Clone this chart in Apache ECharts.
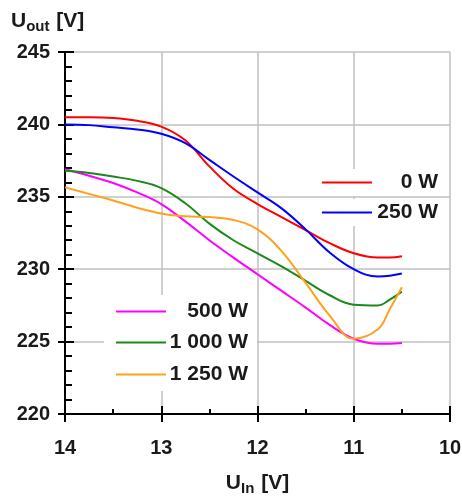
<!DOCTYPE html>
<html>
<head>
<meta charset="utf-8">
<script src="https://cdn.jsdelivr.net/npm/echarts@6/dist/echarts.min.js"></script>
<style>
html,body{margin:0;padding:0;background:#fff;}
#chart{width:462px;height:497px;}
</style>
</head>
<body>
<div id="chart"></div>
<script>
// Data
const xVals   = [14, 13.75, 13.5, 13.25, 13, 12.75, 12.5, 12.25, 12, 11.75, 11.5, 11.25, 11, 10.75, 10.625, 10.5];
const w0      = [240.5, 240.5, 240.45, 240.25, 239.85, 238.9, 237.1, 235.55, 234.5, 233.6, 232.7, 231.8, 231.1, 230.8, 230.8, 230.9];
const w250    = [240.0, 239.95, 239.8, 239.65, 239.35, 238.7, 237.55, 236.4, 235.3, 234.2, 232.75, 231.15, 230.0, 229.5, 229.55, 229.7];
const w500    = [236.9, 236.45, 235.95, 235.3, 234.5, 233.3, 232.0, 230.8, 229.65, 228.5, 227.35, 226.15, 225.2, 224.85, 224.85, 224.9];
const w1000   = [236.8, 236.65, 236.4, 236.1, 235.6, 234.55, 233.15, 232.0, 231.1, 230.2, 229.2, 228.2, 227.55, 227.5, 227.9, 228.45];
const w1250   = [235.65, 235.2, 234.75, 234.25, 233.85, 233.65, 233.6, 233.4, 232.75, 231.25, 229.05, 226.8, 225.2, 225.85, 227.25, 228.75];
const seriesNames = ['0 W', '250 W', '500 W', '1 000 W', '1 250 W'];
const seriesData  = [w0, w250, w500, w1000, w1250];
const seriesColors = ['#ff0000', '#0000ff', '#ff00ff', '#1a8a1a', '#ffa01e'];
const xTicks = {min: 10, max: 14, interval: 1};
const yTicks = {min: 220, max: 245, interval: 5};

const FONT = '"Liberation Sans", Arial, sans-serif';
const TXT = '#1a1a1a';

const chart = echarts.init(document.getElementById('chart'), null, {renderer: 'canvas'});

const series = seriesNames.map((n, i) => ({
  name: n,
  type: 'line',
  xAxisIndex: 0,
  yAxisIndex: 0,
  smooth: 0.4,
  showSymbol: false,
  symbol: 'none',
  color: seriesColors[i],
  itemStyle: {color: seriesColors[i]},
  lineStyle: {color: seriesColors[i], width: 2},
  data: xVals.map((x, j) => [x, seriesData[i][j]]),
  z: 3 + i
}));

function mkLegend(name, left, top, pad, textW) {
  return {
    data: [name],
    left: left,
    top: top,
    orient: 'vertical',
    padding: pad,
    backgroundColor: '#ffffff',
    selectedMode: false,
    icon: 'rect',
    itemWidth: 50,
    itemHeight: 2,
    formatter: n => '{t|' + n + '}',
    textStyle: {
      rich: {
        t: {width: textW, align: 'right', fontFamily: FONT, fontWeight: 'bold', fontSize: 21, lineHeight: 20, color: TXT}
      }
    },
    z: 10
  };
}

const axisLabelStyle = {fontFamily: FONT, fontWeight: 'bold', fontSize: 20, color: TXT};
const subRich = {
  u: {fontFamily: FONT, fontWeight: 'bold', fontSize: 21, lineHeight: 24, color: TXT},
  s: {fontFamily: FONT, fontWeight: 'bold', fontSize: 15, lineHeight: 14, color: TXT, padding: [12, 1, 0, 0]}
};

const option = {
  animation: false,
  backgroundColor: '#ffffff',
  title: {
    text: '{u|U}{s|out}{u| [V]}',
    left: 11,
    top: 9,
    padding: 0,
    textStyle: {rich: subRich}
  },
  grid: {left: 65, right: 12, top: 52, bottom: 83, containLabel: false, outerBoundsMode: 'none'},
  xAxis: [
    {
      type: 'value', min: xTicks.min, max: xTicks.max, interval: xTicks.interval, inverse: true, position: 'bottom',
      axisLine: {show: true, lineStyle: {color: '#000', width: 2}},
      axisTick: {show: true, inside: false, length: 8, lineStyle: {color: '#000', width: 2}},
      minorTick: {show: false},
      axisLabel: Object.assign({margin: 24}, axisLabelStyle),
      splitLine: {show: true, lineStyle: {color: '#c0c0c0', width: 1.5}},
      name: '{u|U}{s|In}{u| [V]}',
      nameLocation: 'middle',
      nameGap: 57,
      nameTextStyle: {rich: subRich}
    },
    {
      type: 'value', min: xTicks.min, max: xTicks.max, interval: xTicks.interval, inverse: true, position: 'bottom',
      axisLine: {show: false},
      axisTick: {show: true, inside: true, length: 8, lineStyle: {color: '#000', width: 2}},
      minorTick: {show: true, splitNumber: 2, length: 5, lineStyle: {color: '#000', width: 2}},
      axisLabel: {show: false},
      splitLine: {show: false}
    }
  ],
  yAxis: [
    {
      type: 'value', min: yTicks.min, max: yTicks.max, interval: yTicks.interval, position: 'left',
      axisLine: {show: true, lineStyle: {color: '#000', width: 2}},
      axisTick: {show: true, inside: false, length: 7, lineStyle: {color: '#000', width: 2}},
      minorTick: {show: false},
      axisLabel: Object.assign({margin: 15}, axisLabelStyle),
      splitLine: {show: true, lineStyle: {color: '#c0c0c0', width: 1.5}}
    },
    {
      type: 'value', min: yTicks.min, max: yTicks.max, interval: yTicks.interval, position: 'left',
      axisLine: {show: false},
      axisTick: {show: true, inside: true, length: 9, lineStyle: {color: '#000', width: 2}},
      minorTick: {show: true, splitNumber: 5, length: 7, lineStyle: {color: '#000', width: 2}},
      axisLabel: {show: false},
      splitLine: {show: false}
    }
  ],
  legend: [
    mkLegend(seriesNames[0], 318, 169, [3, 5, 3, 4], 61),
    mkLegend(seriesNames[1], 318, 199, [3, 5, 3, 4], 61),
    mkLegend(seriesNames[2], 104, 295, [6, 9, 6, 12], 77),
    mkLegend(seriesNames[3], 104, 326, [6, 9, 6, 12], 77),
    mkLegend(seriesNames[4], 104, 358, [6, 9, 6, 12], 77)
  ],
  series: series
};

chart.setOption(option);
</script>
</body>
</html>
